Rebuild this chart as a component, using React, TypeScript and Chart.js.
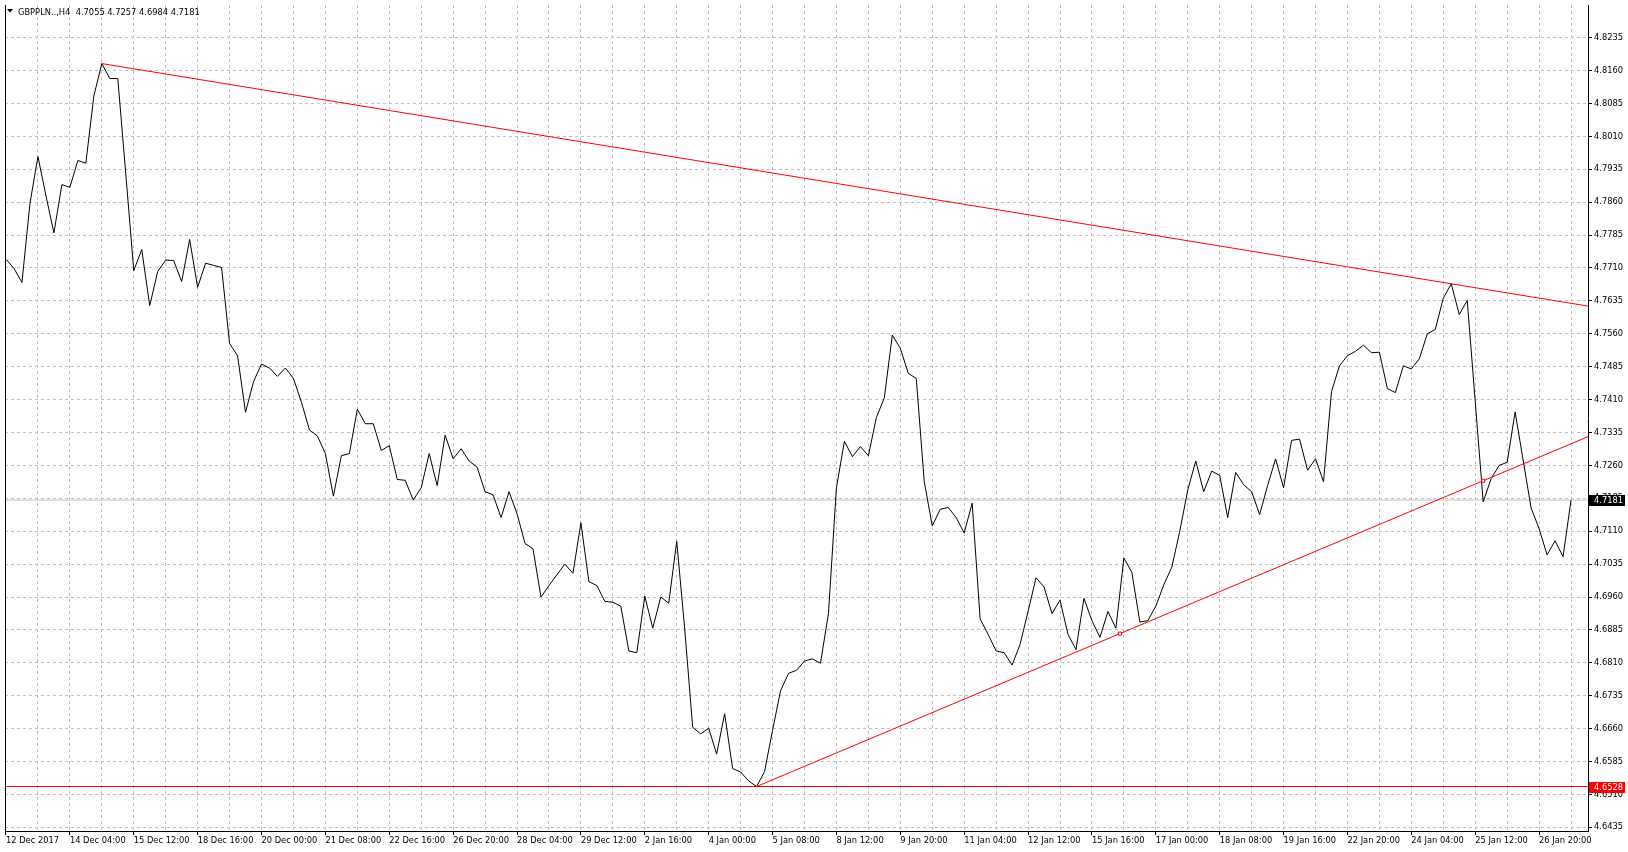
import React, { useEffect, useRef } from "react";
import { Chart, registerables } from "chart.js";

Chart.register(...registerables);

// ---------- data ----------
const chartTitle = "GBPPLN..,H4  4.7055 4.7257 4.6984 4.7181";

// H4 close prices, one per bar (bar 0 = left edge)
const closePrices: number[] = [
  4.7730, 4.7709, 4.7677, 4.7857, 4.7964, 4.7875, 4.7790, 4.7900, 4.7894, 4.7955,
  4.7949, 4.8102, 4.8176, 4.8142, 4.8142, 4.7925, 4.7704, 4.7752, 4.7624, 4.7702,
  4.7728, 4.7727, 4.7679, 4.7775, 4.7666, 4.7721, 4.7716, 4.7711, 4.7538, 4.7510,
  4.7381, 4.7451, 4.7491, 4.7482, 4.7463, 4.7482, 4.7458, 4.7404, 4.7341, 4.7327,
  4.7287, 4.7190, 4.7282, 4.7287, 4.7388, 4.7355, 4.7355, 4.7294, 4.7305, 4.7228,
  4.7226, 4.7181, 4.7209, 4.7287, 4.7214, 4.7329, 4.7275, 4.7298, 4.7270, 4.7256,
  4.7200, 4.7193, 4.7141, 4.7200, 4.7150, 4.7082, 4.7070, 4.6960, 4.6986, 4.7011,
  4.7035, 4.7014, 4.7129, 4.6995, 4.6986, 4.6950, 4.6948, 4.6939, 4.6837, 4.6833,
  4.6962, 4.6889, 4.6960, 4.6946, 4.7087, 4.6887, 4.6663, 4.6648, 4.6661, 4.6602,
  4.6694, 4.6569, 4.6561, 4.6541, 4.6528, 4.6562, 4.6656, 4.6746, 4.6786, 4.6793,
  4.6814, 4.6819, 4.6809, 4.6922, 4.7209, 4.7315, 4.7280, 4.7303, 4.7282, 4.7369,
  4.7414, 4.7557, 4.7527, 4.7470, 4.7458, 4.7223, 4.7122, 4.7160, 4.7164, 4.7141,
  4.7106, 4.7174, 4.6910, 4.6875, 4.6837, 4.6833, 4.6805, 4.6852, 4.6927, 4.7004,
  4.6983, 4.6922, 4.6953, 4.6875, 4.6840, 4.6957, 4.6906, 4.6868, 4.6927, 4.6889,
  4.7049, 4.7016, 4.6903, 4.6906, 4.6939, 4.6988, 4.7028, 4.7110, 4.7204, 4.7270,
  4.7200, 4.7247, 4.7237, 4.7141, 4.7244, 4.7216, 4.7200, 4.7148, 4.7214, 4.7275,
  4.7209, 4.7317, 4.7320, 4.7249, 4.7275, 4.7223, 4.7428, 4.7487, 4.7510, 4.7520,
  4.7534, 4.7517, 4.7518, 4.7435, 4.7426, 4.7487, 4.7480, 4.7503, 4.7560, 4.7570,
  4.7641, 4.7674, 4.7604, 4.7636, 4.7406, 4.7177, 4.7230, 4.7260, 4.7267, 4.7382,
  4.7272, 4.7163, 4.7116, 4.7056, 4.7088, 4.7052, 4.7181,
];

// time labels, one every 8 bars
const timeLabels: string[] = [
  "12 Dec 2017", "14 Dec 04:00", "15 Dec 12:00", "18 Dec 16:00", "20 Dec 00:00",
  "21 Dec 08:00", "22 Dec 16:00", "26 Dec 20:00", "28 Dec 04:00", "29 Dec 12:00",
  "2 Jan 16:00", "4 Jan 00:00", "5 Jan 08:00", "8 Jan 12:00", "9 Jan 20:00",
  "11 Jan 04:00", "12 Jan 12:00", "15 Jan 16:00", "17 Jan 00:00", "18 Jan 08:00",
  "19 Jan 16:00", "22 Jan 20:00", "24 Jan 04:00", "25 Jan 12:00", "26 Jan 20:00",
];

const priceTicks: number[] = [
  4.6435, 4.6510, 4.6585, 4.6660, 4.6735, 4.6810, 4.6885, 4.6960, 4.7035, 4.7110,
  4.7185, 4.7260, 4.7335, 4.7410, 4.7485, 4.7560, 4.7635, 4.7710, 4.7785, 4.7860,
  4.7935, 4.8010, 4.8085, 4.8160, 4.8235,
];

const bidPrice = 4.7181;
const supportLevel = 4.6528;
// trend line anchors: [bar, price]
const trendDown: [number, number][] = [[12, 4.8176], [181, 4.7674]];
const trendUp: [number, number][] = [[94, 4.6528], [185, 4.7225]];
const trendUpMarkerBars: number[] = [139.5, 185];

const barsPerLabel = 8;
const barsPerGrid = 4;
const viewMin = -0.125;
const viewMax = 198.125;
const priceMin = 4.64266;
const priceMax = 4.83095;

// ---------- helpers ----------
const FONT = '"DejaVu Sans", sans-serif';
const FONT_SIZE = 8.3;

function lineAt(a: [number, number][], x: number) {
  const [p, q] = a;
  const s = (q[1] - p[1]) / (q[0] - p[0]);
  return p[1] + s * (x - p[0]);
}
function ray(a: [number, number][]) {
  return [
    { x: a[0][0], y: a[0][1] },
    { x: viewMax + 2, y: lineAt(a, viewMax + 2) },
  ];
}

const overlayPlugin = {
  id: "mt4overlay",
  afterDraw(chart: any) {
    const ctx: CanvasRenderingContext2D = chart.ctx;
    const { left, top, bottom, right } = chart.chartArea;
    const yS = chart.scales.y;
    ctx.save();
    // left frame edge
    ctx.fillStyle = "#000";
    ctx.fillRect(Math.round(left), Math.round(top), 1, Math.round(bottom - top) + 1);

    ctx.font = `${FONT_SIZE}px ${FONT}`;
    ctx.textBaseline = "middle";
    ctx.textAlign = "left";
    const box = (val: number, bg: string) => {
      const py = Math.round(yS.getPixelForValue(val));
      ctx.fillStyle = bg;
      ctx.fillRect(Math.round(right) + 1, py - 5, 36, 11);
      ctx.fillStyle = "#fff";
      ctx.fillText(val.toFixed(4), Math.round(right) + 6, py + 0.5);
    };
    box(bidPrice, "#000000");
    box(supportLevel, "#ff0000");

    // title
    ctx.fillStyle = "#000";
    ctx.beginPath();
    ctx.moveTo(7, 9);
    ctx.lineTo(13, 9);
    ctx.lineTo(10, 12.5);
    ctx.closePath();
    ctx.fill();
    ctx.textBaseline = "alphabetic";
    ctx.fillText(chartTitle, 18, 14.5);
    ctx.restore();
  },
};

export default function App() {
  const ref = useRef<HTMLCanvasElement | null>(null);

  useEffect(() => {
    document.body.style.margin = "0";
    document.body.style.background = "#fff";
    const canvas = ref.current!;
    const priceData = closePrices.map((v, i) => ({ x: i, y: v }));
    const lastBar = closePrices.length - 1;

    const chart = new Chart(canvas, {
      type: "line",
      data: {
        datasets: [
          {
            label: "markers",
            data: trendUpMarkerBars.map((b) => ({ x: b, y: lineAt(trendUp, b) })),
            showLine: false,
            pointStyle: "rect",
            pointRadius: 2.2,
            pointBorderWidth: 1,
            pointBorderColor: "#ff0000",
            pointBackgroundColor: "#ffffff",
            borderColor: "#ff0000",
          },
          {
            label: "trendDown",
            data: ray(trendDown),
            borderColor: "#ff0000",
            borderWidth: 1,
            pointRadius: 0,
          },
          {
            label: "trendUp",
            data: ray(trendUp),
            borderColor: "#ff0000",
            borderWidth: 1,
            pointRadius: 0,
          },
          {
            label: "support",
            data: [
              { x: viewMin - 2, y: supportLevel },
              { x: viewMax + 2, y: supportLevel },
            ],
            borderColor: "#ff0000",
            borderWidth: 1,
            pointRadius: 0,
          },
          {
            label: "close",
            data: priceData,
            borderColor: "#000000",
            borderWidth: 1,
            pointRadius: 0,
            tension: 0,
          },
          {
            label: "bid",
            data: [
              { x: viewMin - 2, y: bidPrice },
              { x: viewMax + 2, y: bidPrice },
            ],
            borderColor: "#c0c0c0",
            borderWidth: 1,
            pointRadius: 0,
          },
        ],
      },
      options: {
        responsive: false,
        animation: false,
        devicePixelRatio: 1,
        events: [],
        layout: { padding: { left: 2, top: 0, right: 0, bottom: 0 } },
        plugins: {
          legend: { display: false },
          tooltip: { enabled: false },
          title: { display: false },
        },
        scales: {
          x: {
            type: "linear",
            min: viewMin,
            max: viewMax,
            bounds: "data",
            afterBuildTicks: (scale: any) => {
              const t: { value: number }[] = [];
              for (let b = 0; b <= lastBar; b += barsPerGrid) t.push({ value: b });
              scale.ticks = t;
            },
            afterFit: (scale: any) => {
              scale.height = 21;
              scale.paddingLeft = 0;
              scale.paddingRight = 0;
              scale.paddingTop = 0;
              scale.paddingBottom = 0;
            },
            ticks: {
              autoSkip: false,
              maxRotation: 0,
              minRotation: 0,
              align: "start",
              padding: 1,
              color: "#000",
              font: { family: FONT, size: FONT_SIZE },
              callback: (v: any) => {
                const n = Math.round(Number(v));
                return n % barsPerLabel === 0 ? timeLabels[n / barsPerLabel] ?? "" : "";
              },
            },
            grid: {
              color: "#c0c0c0",
              lineWidth: 1,
              tickLength: 4,
              tickColor: (ctx: any) =>
                ctx.tick && Math.round(ctx.tick.value) % barsPerLabel === 0 ? "#000" : "rgba(0,0,0,0)",
            },
            border: { display: true, color: "#000", width: 1, dash: [3, 3] },
          },
          y: {
            type: "linear",
            position: "right",
            min: priceMin,
            max: priceMax,
            bounds: "data",
            afterBuildTicks: (scale: any) => {
              scale.ticks = priceTicks.map((v) => ({ value: v }));
            },
            afterFit: (scale: any) => {
              scale.width = 40;
              scale.paddingLeft = 0;
              scale.paddingRight = 0;
              scale.paddingTop = 0;
              scale.paddingBottom = 0;
            },
            ticks: {
              autoSkip: false,
              padding: 2,
              color: "#000",
              font: { family: FONT, size: FONT_SIZE },
              callback: (v: any) => Number(v).toFixed(4),
            },
            grid: {
              color: "#c0c0c0",
              lineWidth: 1,
              tickLength: 4,
              tickColor: "#000",
            },
            border: { display: true, color: "#000", width: 1, dash: [3, 3] },
          },
        },
      } as any,
      plugins: [overlayPlugin],
    });
    return () => chart.destroy();
  }, []);

  return (
    <div style={{ width: 1628, height: 852, background: "#fff" }}>
      <canvas ref={ref} width={1628} height={852} style={{ display: "block", width: 1628, height: 852 }} />
    </div>
  );
}
